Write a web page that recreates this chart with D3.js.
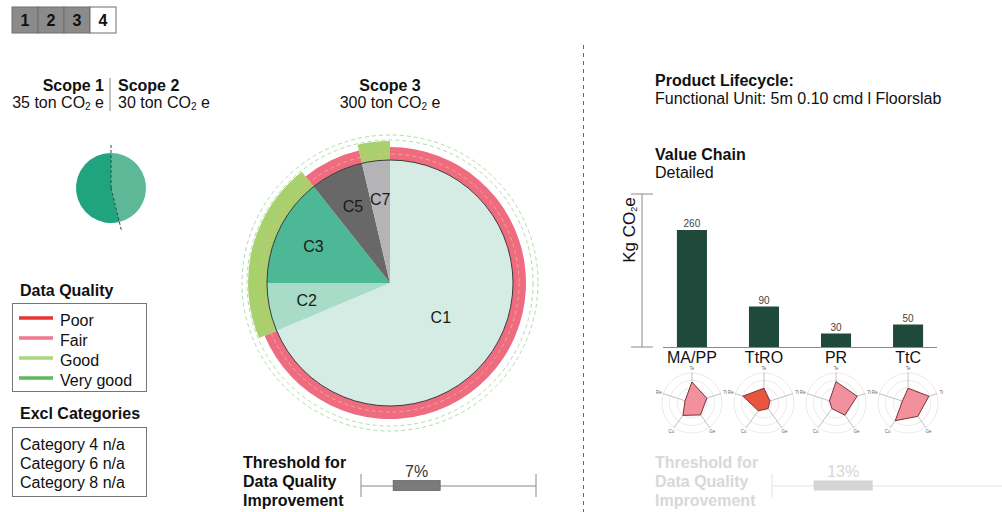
<!DOCTYPE html>
<html>
<head>
<meta charset="utf-8">
<script src="https://cdn.jsdelivr.net/npm/d3@7"></script>
<style>
  html, body { margin: 0; padding: 0; background: #fff; }
  svg { display: block; font-family: "Liberation Sans", Arial, Helvetica, sans-serif; }
</style>
</head>
<body>
<svg id="chart" width="1002" height="512"></svg>
<script>
// ---- data ----
const tabs = ["1", "2", "3", "4"];
const activeTab = "4";

const scopeNames = ["Scope 1", "Scope 2"];
const scopeValues = [35, 30];

const scope3Total = 300;
const scope3Categories = ["C1", "C2", "C3", "C5", "C7"];
const scope3Values = [206, 19, 43, 21, 11];
const scope3Quality = ["Fair", "Good", "Good", "Fair", "Good"];

const qualityLevels = ["Poor", "Fair", "Good", "Very good"];
const qualityColors = ["#e8352f", "#ee7a8b", "#a9d67e", "#5cb85a"];

const exclCategories = ["Category 4 n/a", "Category 6 n/a", "Category 8 n/a"];

const stages = ["MA/PP", "TtRO", "PR", "TtC"];
const stageValues = [260, 90, 30, 50];

const radarAxes = ["Te", "Ti", "Ge", "Cu", "Re"];
const radarValues = [
  [0.70, 0.52, 0.49, 0.51, 0.24],
  [0.49, 0.21, 0.23, 0.32, 0.74],
  [0.71, 0.74, 0.50, 0.23, 0.23],
  [0.49, 0.73, 0.55, 0.73, 0.20]
];

const thresholdValues = [7, 13];

// ---- drawing ----
const svg = d3.select("#chart");
const FS = 16;

function co2(sel, before, after, subSize) {
  sel.append("tspan").text(before + "CO");
  sel.append("tspan").attr("font-size", subSize).attr("dy", 2).text("2");
  sel.append("tspan").attr("dy", -2).text(after);
}

// tab strip
const tabX = d3.scaleBand().domain(tabs).range([12, 116]);
const tabG = svg.append("g");
tabG.selectAll("rect").data(tabs).join("rect")
  .attr("x", d => tabX(d)).attr("y", 7)
  .attr("width", tabX.bandwidth()).attr("height", 26)
  .attr("fill", d => d === activeTab ? "#fff" : "#8b8b8b")
  .attr("stroke", "#6f6f6f").attr("stroke-width", 1);
tabG.selectAll("text").data(tabs).join("text")
  .attr("x", d => tabX(d) + tabX.bandwidth() / 2).attr("y", 26)
  .attr("text-anchor", "middle").attr("font-weight", "bold").attr("font-size", 16)
  .attr("fill", "#111").text(d => d);

// ---- Scope 1 | Scope 2 ----
const s12 = svg.append("g");
s12.append("text").attr("x", 104).attr("y", 91).attr("text-anchor", "end")
  .attr("font-weight", "bold").attr("font-size", FS).attr("fill", "#111").text(scopeNames[0]);
s12.append("text").attr("x", 104).attr("y", 108).attr("text-anchor", "end")
  .attr("font-size", FS).attr("fill", "#111").call(co2, scopeValues[0] + " ton ", " e", 10);
s12.append("line").attr("x1", 110).attr("x2", 110).attr("y1", 78).attr("y2", 111)
  .attr("stroke", "#888").attr("stroke-width", 1);
s12.append("text").attr("x", 118).attr("y", 91)
  .attr("font-weight", "bold").attr("font-size", FS).attr("fill", "#111").text(scopeNames[1]);
s12.append("text").attr("x", 118).attr("y", 108)
  .attr("font-size", FS).attr("fill", "#111").call(co2, scopeValues[1] + " ton ", " e", 10);

// small pie: Scope 2 from 12 o'clock clockwise, Scope 1 fills the rest
const smallPie = d3.pie().sort(null).value(d => d.v);
const smallData = smallPie([{ k: scopeNames[1], v: scopeValues[1] }, { k: scopeNames[0], v: scopeValues[0] }]);
const smallArc = d3.arc().innerRadius(0).outerRadius(35);
const sp = s12.append("g").attr("transform", "translate(111,188)");
sp.selectAll("path").data(smallData).join("path")
  .attr("d", smallArc)
  .attr("fill", d => d.data.k === scopeNames[0] ? "#1fa47f" : "#5cb896");
// divider through the two slice boundaries
const boundaryAngles = [smallData[0].startAngle, smallData[0].endAngle];
sp.selectAll("line.div").data(boundaryAngles).join("line")
  .attr("class", "div")
  .attr("x1", 0).attr("y1", 0)
  .attr("x2", a => 43 * Math.sin(a)).attr("y2", a => -43 * Math.cos(a))
  .attr("stroke", "#2a4a3e").attr("stroke-width", 1).attr("stroke-dasharray", "3,2");

// ---- Data Quality legend ----
const lg = svg.append("g");
lg.append("text").attr("x", 20).attr("y", 296).attr("font-weight", "bold")
  .attr("font-size", FS).attr("fill", "#111").text("Data Quality");
lg.append("rect").attr("x", 12.5).attr("y", 303.5).attr("width", 134).attr("height", 88)
  .attr("fill", "none").attr("stroke", "#777");
const lgY = d3.scalePoint().domain(qualityLevels).range([318, 378]);
lg.selectAll("line.q").data(qualityLevels).join("line").attr("class", "q")
  .attr("x1", 19).attr("x2", 53).attr("y1", d => lgY(d)).attr("y2", d => lgY(d))
  .attr("stroke", (d, i) => qualityColors[i]).attr("stroke-width", 3.5);
lg.selectAll("text.q").data(qualityLevels).join("text").attr("class", "q")
  .attr("x", 60).attr("y", d => lgY(d) + 8).attr("font-size", FS).attr("fill", "#111").text(d => d);

// ---- Excluded categories ----
const ex = svg.append("g");
ex.append("text").attr("x", 20).attr("y", 419).attr("font-weight", "bold")
  .attr("font-size", FS).attr("fill", "#111").text("Excl Categories");
ex.append("rect").attr("x", 12.5).attr("y", 427.5).attr("width", 134).attr("height", 69)
  .attr("fill", "none").attr("stroke", "#777");
const exY = d3.scalePoint().domain(exclCategories).range([450, 488]);
ex.selectAll("text.c").data(exclCategories).join("text").attr("class", "c")
  .attr("x", 20).attr("y", d => exY(d)).attr("font-size", FS).attr("fill", "#111").text(d => d);

// ---- Scope 3 ----
const s3 = svg.append("g");
s3.append("text").attr("x", 390).attr("y", 91).attr("text-anchor", "middle")
  .attr("font-weight", "bold").attr("font-size", FS).attr("fill", "#111").text("Scope 3");
s3.append("text").attr("x", 390).attr("y", 108).attr("text-anchor", "middle")
  .attr("font-size", FS).attr("fill", "#111").call(co2, scope3Total + " ton ", " e", 10);

const R = 123;
const pieG = s3.append("g").attr("transform", "translate(390,283)");
const sliceColors = d3.scaleOrdinal().domain(scope3Categories)
  .range(["#d4ece3", "#a8dcc8", "#4db895", "#686868", "#b4b4b7"]);
const qColor = d3.scaleOrdinal().domain(qualityLevels).range(["#e8352f", "#ef6b7f", "#a8d06c", "#5cb85a"]);
const qOuter = d3.scaleOrdinal().domain(qualityLevels).range([134, 136, 142, 142]);

const pie3 = d3.pie().sort(null).value(d => d.v);
const data3 = pie3(scope3Categories.map((c, i) => ({ c, v: scope3Values[i], q: scope3Quality[i] })));

// outer dashed guide circles
pieG.selectAll("circle.guide").data([143, 148]).join("circle").attr("class", "guide")
  .attr("r", d => d).attr("fill", "none")
  .attr("stroke", "#a9d6a0").attr("stroke-width", 0.9).attr("stroke-dasharray", "4,3");

// data quality ring
pieG.selectAll("path.ring").data(data3).join("path").attr("class", "ring")
  .attr("d", d => d3.arc().innerRadius(R).outerRadius(qOuter(d.data.q))(d))
  .attr("fill", d => qColor(d.data.q));
pieG.append("circle").attr("r", 129).attr("fill", "none")
  .attr("stroke", "#f6b08e").attr("stroke-opacity", 0.85).attr("stroke-width", 1)
  .attr("stroke-dasharray", "4,3");

// slices
const arc3 = d3.arc().innerRadius(0).outerRadius(R);
pieG.selectAll("path.slice").data(data3).join("path").attr("class", "slice")
  .attr("d", arc3).attr("fill", d => sliceColors(d.data.c));
pieG.append("circle").attr("r", R).attr("fill", "none").attr("stroke", "#3a3a3a").attr("stroke-width", 1);

// slice labels
const maxV = d3.max(scope3Values);
pieG.selectAll("text.lab").data(data3).join("text").attr("class", "lab")
  .attr("transform", d => {
    const a = (d.startAngle + d.endAngle) / 2;
    const r = d.data.v === maxV ? 61 : 85;
    return `translate(${r * Math.sin(a)},${-r * Math.cos(a) + 6})`;
  })
  .attr("text-anchor", "middle").attr("font-size", FS).attr("fill", "#1a1a1a")
  .text(d => d.data.c);

// ---- threshold strips ----
function threshold(g, opt) {
  const col = opt.color;
  ["Threshold for", "Data Quality", "Improvement"].forEach((t, i) => {
    g.append("text").attr("x", opt.textX).attr("y", 468 + i * 19)
      .attr("font-weight", "bold").attr("font-size", FS).attr("fill", col).text(t);
  });
  const x = d3.scaleLinear().domain(opt.domain).range(opt.range);
  g.append("line").attr("x1", x.range()[0]).attr("x2", x.range()[1]).attr("y1", 486).attr("y2", 486)
    .attr("stroke", opt.lineColor).attr("stroke-width", 1);
  g.selectAll("line.t").data(opt.ends).join("line").attr("class", "t")
    .attr("x1", d => x(d)).attr("x2", d => x(d)).attr("y1", 474).attr("y2", 497)
    .attr("stroke", opt.lineColor).attr("stroke-width", 1);
  const cx = x(opt.value);
  g.append("rect").attr("x", cx - opt.boxW / 2).attr("y", 480.5).attr("width", opt.boxW).attr("height", 10)
    .attr("fill", opt.boxColor).attr("stroke", opt.boxStroke).attr("stroke-width", 0.8);
  g.append("text").attr("x", cx).attr("y", 477).attr("text-anchor", "middle")
    .attr("font-size", FS).attr("fill", opt.labelColor).text(opt.value + "%");
}
threshold(svg.append("g"), {
  textX: 243, color: "#111", domain: [0, 22], range: [361, 536], ends: [0, 22],
  value: thresholdValues[0], boxW: 47, boxColor: "#7b7b7b", boxStroke: "#666",
  lineColor: "#888", labelColor: "#333"
});
threshold(svg.append("g"), {
  textX: 655, color: "#d8d8d8", domain: [0, 42], range: [772, 1002], ends: [0],
  value: thresholdValues[1], boxW: 59, boxColor: "#d4d4d4", boxStroke: "none",
  lineColor: "#e2e2e2", labelColor: "#d6d6d6"
});

// ---- divider ----
svg.append("line").attr("x1", 583.5).attr("x2", 583.5).attr("y1", 45).attr("y2", 512)
  .attr("stroke", "#666").attr("stroke-width", 1).attr("stroke-dasharray", "4,4");

// ---- Product lifecycle ----
const pl = svg.append("g");
pl.append("text").attr("x", 655).attr("y", 86).attr("font-weight", "bold").attr("font-size", FS)
  .attr("fill", "#111").text("Product Lifecycle:");
pl.append("text").attr("x", 655).attr("y", 104).attr("font-size", FS)
  .attr("fill", "#111").text("Functional Unit: 5m 0.10 cmd l Floorslab");
pl.append("text").attr("x", 655).attr("y", 160).attr("font-weight", "bold").attr("font-size", FS)
  .attr("fill", "#111").text("Value Chain");
pl.append("text").attr("x", 655).attr("y", 178).attr("font-size", FS)
  .attr("fill", "#111").text("Detailed");

// bar chart
const x = d3.scaleBand().domain(stages).range([656, 944]).paddingInner(0.583).paddingOuter(0.29);
const y = d3.scaleLinear().domain([0, 340]).range([347, 194]);
const bc = svg.append("g");
bc.append("line").attr("x1", 642).attr("x2", 642).attr("y1", y(340)).attr("y2", y(0))
  .attr("stroke", "#8a8a8a");
bc.selectAll("line.tk").data(y.domain()).join("line").attr("class", "tk")
  .attr("x1", 631).attr("x2", 653).attr("y1", d => y(d)).attr("y2", d => y(d)).attr("stroke", "#8a8a8a");
bc.append("line").attr("x1", 663).attr("x2", 937).attr("y1", y(0) + 0.5).attr("y2", y(0) + 0.5)
  .attr("stroke", "#8a8a8a");
bc.append("text").attr("transform", "translate(635,230) rotate(-90)")
  .attr("text-anchor", "middle").attr("font-size", 17).attr("fill", "#111")
  .call(sel => {
    sel.append("tspan").text("Kg CO");
    sel.append("tspan").attr("font-size", 9).attr("dy", 2).text("2");
    sel.append("tspan").attr("dy", -2).text("e");
  });
bc.selectAll("rect.bar").data(stages).join("rect").attr("class", "bar")
  .attr("x", d => x(d)).attr("width", x.bandwidth())
  .attr("y", (d, i) => y(stageValues[i])).attr("height", (d, i) => y(0) - y(stageValues[i]))
  .attr("fill", "#1f4a3b");
bc.selectAll("text.val").data(stages).join("text").attr("class", "val")
  .attr("x", d => x(d) + x.bandwidth() / 2).attr("y", (d, i) => y(stageValues[i]) - 3)
  .attr("text-anchor", "middle").attr("font-size", 10).attr("fill", "#444")
  .text((d, i) => stageValues[i]);
bc.selectAll("text.cat").data(stages).join("text").attr("class", "cat")
  .attr("x", d => x(d) + x.bandwidth() / 2).attr("y", 363)
  .attr("text-anchor", "middle").attr("font-size", 16).attr("fill", "#111").text(d => d);

// radar charts under each bar
const rr = d3.scaleLinear().domain([0, 1]).range([0, 30]);
const angle = i => (i * 2 * Math.PI) / radarAxes.length;
const radarFill = ["#f2909e", "#e9553f", "#f2909e", "#f2909e"];
stages.forEach((s, si) => {
  const g = svg.append("g").attr("transform", `translate(${x(s) + x.bandwidth() / 2},403)`);
  g.selectAll("circle").data([0.25, 0.5, 0.75, 1]).join("circle")
    .attr("r", d => rr(d)).attr("fill", "none").attr("stroke", "#e3e3e3").attr("stroke-width", 0.8);
  g.selectAll("line").data(radarAxes).join("line")
    .attr("x1", 0).attr("y1", 0)
    .attr("x2", (d, i) => rr(1.02) * Math.sin(angle(i)))
    .attr("y2", (d, i) => -rr(1.02) * Math.cos(angle(i)))
    .attr("stroke", "#b0b0b0").attr("stroke-width", 0.8);
  const line = d3.lineRadial().angle((d, i) => angle(i)).radius(d => rr(d)).curve(d3.curveLinearClosed);
  g.append("path").datum(radarValues[si]).attr("d", line)
    .attr("fill", radarFill[si]).attr("stroke", "#7c3434").attr("stroke-width", 1);
  g.selectAll("text").data(radarAxes).join("text")
    .attr("x", (d, i) => rr(1.16) * Math.sin(angle(i)))
    .attr("y", (d, i) => -rr(1.16) * Math.cos(angle(i)) + 1.5)
    .attr("text-anchor", "middle").attr("font-size", 4.5).attr("fill", "#666").text(d => d);
});
</script>
</body>
</html>
